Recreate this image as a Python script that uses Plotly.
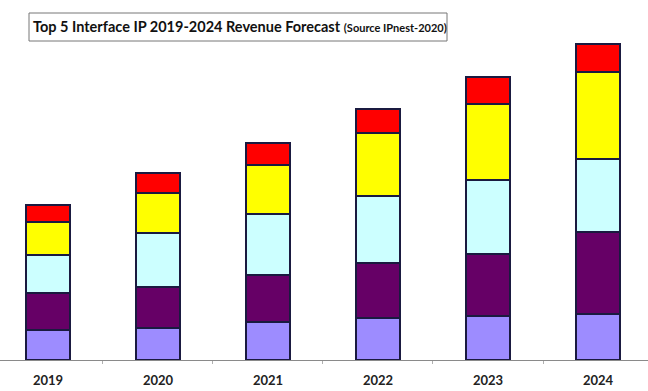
import plotly.graph_objects as go

years = ["2019", "2020", "2021", "2022", "2023", "2024"]
series_names = ["USB", "PCIe", "DDRn", "Ethernet & D2D", "MIPI"]
# stacked segment values (relative revenue, arbitrary units), bottom to top
usb = [30, 32, 38, 42, 44, 46]
pcie = [37, 41, 47, 55, 62, 82]
ddr = [38, 54, 61, 67, 74, 73]
ethernet = [33, 40, 49, 63, 76, 87]
mipi = [17, 20, 22, 24, 27, 28]
colors = ["#9D8CFF", "#660066", "#CCFFFF", "#FFFF00", "#FF0000"]

title_main = "Top 5 Interface IP 2019-2024 Revenue Forecast"
title_src = "(Source IPnest-2020)"

fig = go.Figure()
for name, vals, col in zip(series_names, [usb, pcie, ddr, ethernet, mipi], colors):
    fig.add_trace(go.Bar(
        x=years, y=vals, name=name, width=0.4,
        marker=dict(color=col, line=dict(color="#1a1a40", width=1.2)),
        showlegend=False,
    ))

W, H = 648, 391
PH = 360  # plot area height in px
fig.update_layout(
    width=W, height=H, barmode="stack",
    margin=dict(l=0, r=0, t=0, b=H - PH),
    paper_bgcolor="white", plot_bgcolor="white",
    xaxis=dict(
        type="category", range=[-0.436, 5.4545], automargin=False,
        showline=True, linecolor="#8a8a8a", linewidth=1,
        ticks="outside", ticklen=3, tickcolor="#b0b0b0", tickson="boundaries",
        ticklabelstandoff=8,
        tickfont=dict(family="Lato", size=13, color="#222222", weight="bold"),
        showgrid=False, zeroline=False,
    ),
    yaxis=dict(range=[0, 360], visible=False, showgrid=False, zeroline=False,
               automargin=False),
    font=dict(family="Lato"),
)

# title box
fig.add_shape(
    type="rect", xref="paper", yref="paper",
    x0=29 / W, x1=447 / W, y0=1 - 41 / PH, y1=1 - 13 / PH,
    line=dict(color="#777777", width=1), fillcolor="white", layer="above",
)
fig.add_annotation(
    xref="paper", yref="paper", x=31 / W, y=1 - 27 / PH,
    xanchor="left", yanchor="middle", showarrow=False,
    text=(f"<b>{title_main}</b> "
          f"<span style='font-size:11px'><b>{title_src}</b></span>"),
    font=dict(family="Lato", size=14.5, color="#111111"),
    align="left",
)

fig.write_html(
    "out.html",
    config={"displayModeBar": False},
    post_script="document.body.style.margin='0px';document.body.style.overflow='hidden';",
)
